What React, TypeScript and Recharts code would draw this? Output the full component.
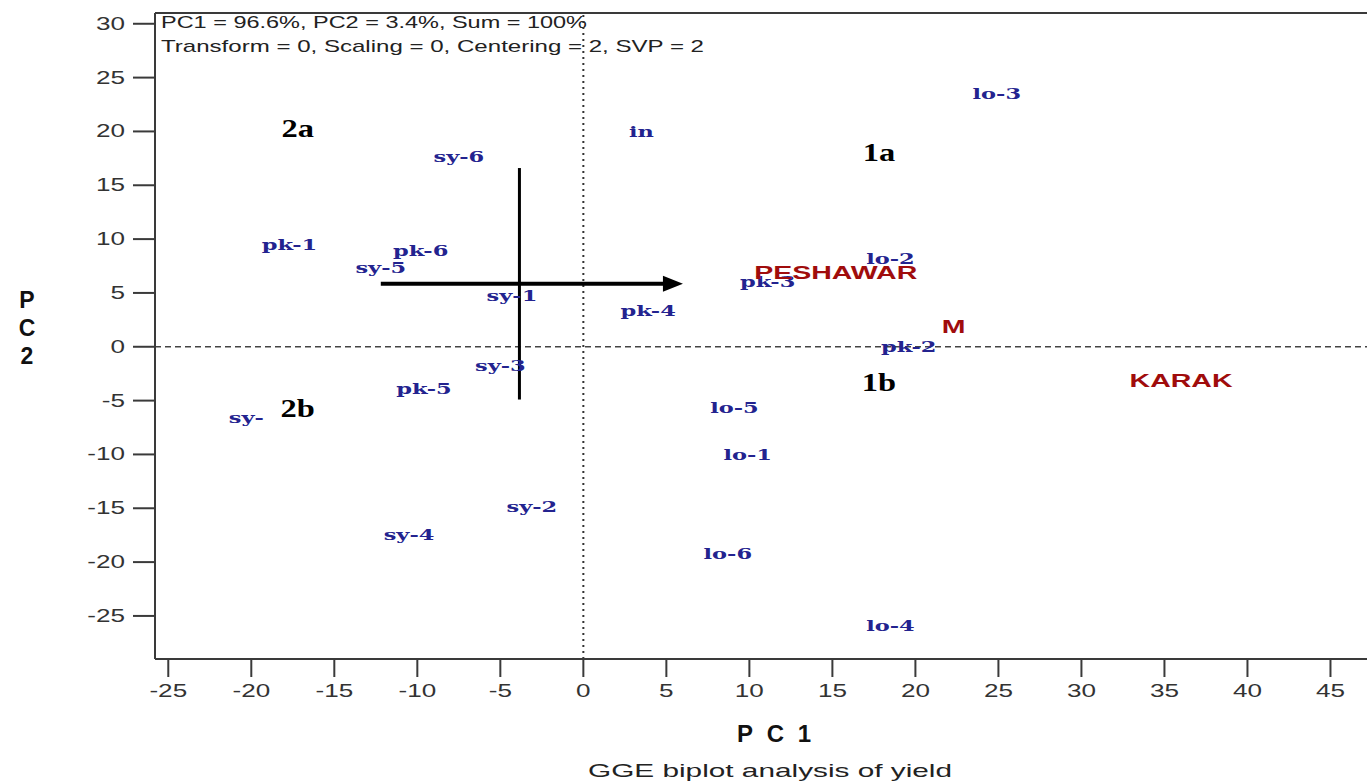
import {
  Customized,
  ReferenceLine,
  Scatter,
  ScatterChart,
  XAxis,
  YAxis,
} from "recharts";

// genotypes (blue labels)
const genotypeNames = [
  "lo-3", "in", "sy-6", "pk-1", "pk-6", "sy-5", "sy-1", "pk-4", "pk-3", "lo-2", "pk-2",
  "sy-3", "pk-5", "sy-", "lo-5", "lo-1", "sy-2", "sy-4", "lo-6", "lo-4",
];
const genotypePC1 = [
  24.9, 3.5, -7.5, -17.7, -9.8, -12.2, -4.3, 3.9, 11.1, 18.5, 19.6,
  -5.0, -9.6, -20.3, 9.1, 9.9, -3.1, -10.5, 8.7, 18.5,
];
const genotypePC2 = [
  23.5, 20.0, 17.6, 9.5, 8.9, 7.3, 4.7, 3.3, 6.0, 8.2, 0.0,
  -1.8, -3.9, -6.6, -5.7, -10.0, -14.9, -17.5, -19.2, -25.9,
];

// environments (red labels)
const envNames = ["PESHAWAR", "M", "KARAK"];
const envPC1 = [15.2, 22.3, 36.0];
const envPC2 = [6.9, 1.9, -3.1];

// sector labels
const sectorNames = ["2a", "1a", "1b", "2b"];
const sectorPC1 = [-17.2, 17.8, 17.8, -17.2];
const sectorPC2 = [20.3, 18.1, -3.3, -5.7];

// average environment axis arrow + perpendicular
const arrowPC1 = [-12.2, 5.0];
const arrowPC2 = [5.85, 5.85];
const arrowTip = { x: 6.0, y: 5.85 };
const perpPC1 = -3.85;
const perpPC2 = [16.6, -4.9];

const xTicks = [-25, -20, -15, -10, -5, 0, 5, 10, 15, 20, 25, 30, 35, 40, 45];
const yTicks = [-25, -20, -15, -10, -5, 0, 5, 10, 15, 20, 25, 30];

const genotypes = genotypeNames.map((name, i) => ({ name, x: genotypePC1[i], y: genotypePC2[i] }));
const envs = envNames.map((name, i) => ({ name, x: envPC1[i], y: envPC2[i] }));
const sectors = sectorNames.map((name, i) => ({ name, x: sectorPC1[i], y: sectorPC2[i] }));
const arrowData = arrowPC1.map((x, i) => ({ x, y: arrowPC2[i] }));

const AXIS = "#3a3a3a";

const GenotypeLabel = (props: any) => {
  const { cx, cy, payload } = props;
  return (
    <text
      transform={`translate(${cx} ${cy}) scale(1.5 1)`}
      textAnchor="middle"
      dominantBaseline="central"
      fontFamily="DejaVu Serif"
      fontWeight="bold"
      fontSize={15}
      fill="#23238f"
    >
      {payload.name}
    </text>
  );
};

const EnvLabel = (props: any) => {
  const { cx, cy, payload } = props;
  return (
    <text
      transform={`translate(${cx} ${cy}) scale(1.5 1)`}
      textAnchor="middle"
      dominantBaseline="central"
      fontFamily="Liberation Sans"
      fontWeight="bold"
      fontSize={19}
      fill="#a00c0c"
    >
      {payload.name}
    </text>
  );
};

const SectorLabel = (props: any) => {
  const { cx, cy, payload } = props;
  return (
    <text
      transform={`translate(${cx} ${cy}) scale(1.3 1)`}
      textAnchor="middle"
      dominantBaseline="central"
      fontFamily="Liberation Serif"
      fontWeight="bold"
      fontSize={25}
      fill="#000"
    >
      {payload.name}
    </text>
  );
};

const ArrowHead = (props: any) => {
  const { cx, cy } = props;
  return (
    <polygon
      points={`${cx},${cy} ${cx - 20},${cy - 8} ${cx - 20},${cy + 8}`}
      fill="#000"
    />
  );
};

const YTick = (props: any) => {
  const { x, y, payload } = props;
  return (
    <text
      transform={`translate(${x} ${y}) scale(1.45 1)`}
      textAnchor="end"
      dominantBaseline="central"
      fontFamily="Liberation Sans"
      fontSize={18}
      fill="#333"
    >
      {payload.value}
    </text>
  );
};

const XTick = (props: any) => {
  const { x, y, payload } = props;
  return (
    <text
      transform={`translate(${x} ${y}) scale(1.45 1)`}
      textAnchor="middle"
      dominantBaseline="hanging"
      fontFamily="Liberation Sans"
      fontSize={18}
      fill="#333"
    >
      {payload.value}
    </text>
  );
};

const Titles = () => (
  <g fontFamily="Liberation Sans" fill="#222">
    <text x={161} y={28} fontSize={17} textLength={426} lengthAdjust="spacingAndGlyphs">
      PC1 = 96.6%, PC2 = 3.4%, Sum = 100%
    </text>
    <text x={161} y={52} fontSize={17} textLength={543} lengthAdjust="spacingAndGlyphs">
      Transform = 0, Scaling = 0, Centering = 2, SVP = 2
    </text>
    <g fontWeight="bold" fontSize={23} textAnchor="middle" fill="#111">
      <text x={27} y={308}>P</text>
      <text x={27} y={336}>C</text>
      <text x={27} y={364}>2</text>
    </g>
    <text
      x={737}
      y={742}
      fontWeight="bold"
      fontSize={24}
      fill="#111"
      textLength={74}
      lengthAdjust="spacing"
    >
      PC1
    </text>
    <text x={588} y={777} fontSize={19} textLength={364} lengthAdjust="spacingAndGlyphs">
      GGE biplot analysis of yield
    </text>
  </g>
);

export default function App() {
  return (
    <div
      style={{
        position: "fixed",
        left: 0,
        top: 0,
        width: 1367,
        height: 783,
        overflow: "hidden",
        background: "#fff",
      }}
    >
      <ScatterChart
        width={1380}
        height={783}
        margin={{ top: 13, right: 13, bottom: 0, left: 0 }}
      >
        <XAxis
          type="number"
          dataKey="x"
          domain={[-25.8, 47.2]}
          ticks={xTicks}
          allowDataOverflow
          height={124}
          tickSize={18}
          tickMargin={7}
          axisLine={{ stroke: AXIS, strokeWidth: 2 }}
          tickLine={{ stroke: AXIS, strokeWidth: 2 }}
          tick={<XTick />}
        />
        <YAxis
          type="number"
          dataKey="y"
          domain={[-29, 31]}
          ticks={yTicks}
          allowDataOverflow
          width={155}
          tickSize={22}
          tickMargin={8}
          axisLine={{ stroke: AXIS, strokeWidth: 2 }}
          tickLine={{ stroke: AXIS, strokeWidth: 2 }}
          tick={<YTick />}
        />
        <ReferenceLine y={31} stroke={AXIS} strokeWidth={2} />
        <ReferenceLine x={0} stroke="#333" strokeWidth={2} strokeDasharray="2 4" />
        <ReferenceLine y={0} stroke="#444" strokeWidth={1.5} strokeDasharray="6 4" />
        <ReferenceLine
          segment={[
            { x: perpPC1, y: perpPC2[0] },
            { x: perpPC1, y: perpPC2[1] },
          ]}
          stroke="#000"
          strokeWidth={3}
        />
        <Scatter
          data={arrowData}
          line={{ stroke: "#000", strokeWidth: 4 }}
          shape={() => <g />}
          isAnimationActive={false}
        />
        <Scatter data={[arrowTip]} shape={<ArrowHead />} isAnimationActive={false} />
        <Scatter data={genotypes} shape={<GenotypeLabel />} isAnimationActive={false} />
        <Scatter data={envs} shape={<EnvLabel />} isAnimationActive={false} />
        <Scatter data={sectors} shape={<SectorLabel />} isAnimationActive={false} />
        <Customized component={Titles} />
      </ScatterChart>
    </div>
  );
}
